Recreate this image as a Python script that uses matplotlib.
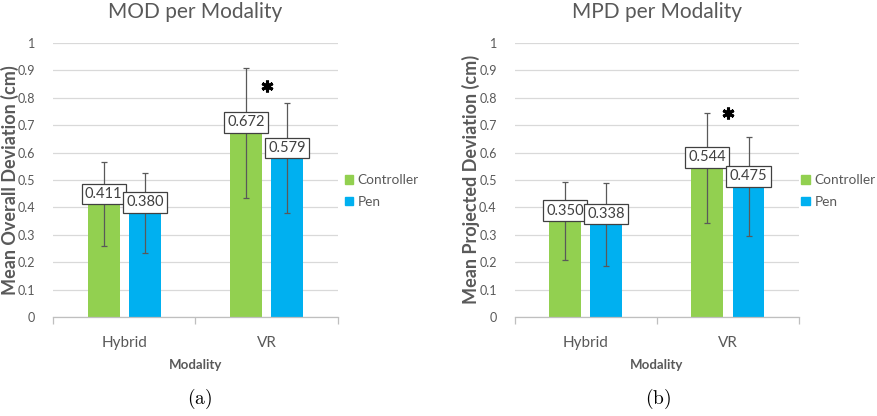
import matplotlib
matplotlib.use("Agg")
import matplotlib.pyplot as plt
import numpy as np
from matplotlib.patches import Patch

# Data
modalities = ["Hybrid", "VR"]
devices = ["Controller", "Pen"]

mod_mean = {"Controller": [0.411, 0.672], "Pen": [0.380, 0.579]}
mod_sd = {"Controller": [0.153, 0.238], "Pen": [0.147, 0.200]}

mpd_mean = {"Controller": [0.350, 0.544], "Pen": [0.338, 0.475]}
mpd_sd = {"Controller": [0.143, 0.200], "Pen": [0.152, 0.180]}

star_mod = 0.843
star_mpd = 0.745

colors = {"Controller": "#92D050", "Pen": "#00B0F0"}
plt.rcParams["font.family"] = ["Lato", "DejaVu Sans"]
grey = "#595959"


def panel(ax, means, sds, title, ylabel, star_y, ylab_x, leg_x):
    x = np.arange(len(modalities))
    w = 0.225
    offs = {"Controller": -0.145, "Pen": 0.145}
    for d in devices:
        xs = x + offs[d]
        ax.bar(xs, means[d], width=w, color=colors[d], zorder=2)
        ax.errorbar(xs, means[d], yerr=sds[d], fmt="none", ecolor="#595959",
                    elinewidth=0.9, capsize=2.5, capthick=0.9, zorder=4)
        for xi, m in zip(xs, means[d]):
            ax.annotate("%.3f" % m, (xi, m), xytext=(0, 2.5), textcoords="offset points",
                        ha="center", va="bottom", fontsize=10.5, color="#404040", zorder=5,
                        bbox=dict(boxstyle="square,pad=0.22", fc="white", ec="#404040", lw=0.9))
    # significance marker
    ax.plot(x[1], star_y, marker=(6, 2, 0), markersize=8.5, mew=2.2, color="black",
            zorder=6)
    ax.set_xlim(-0.5, 1.5)
    ax.set_ylim(0, 1)
    ax.set_yticks(np.arange(0, 1.01, 0.1))
    ax.set_yticklabels(["0"] + ["%.1f" % v for v in np.arange(0.1, 0.95, 0.1)] + ["1"])
    ax.set_xticks(x)
    ax.set_xticklabels(modalities)
    ax.set_xticks([-0.5, 0.5, 1.5], minor=True)
    ax.tick_params(axis="x", which="major", length=0, colors=grey, labelsize=11, pad=14)
    ax.tick_params(axis="x", which="minor", length=5, color="#BFBFBF", width=0.9)
    ax.tick_params(axis="y", length=0, colors=grey, labelsize=9, pad=13)
    ax.grid(axis="y", color="#D9D9D9", lw=0.9, zorder=0)
    ax.set_axisbelow(True)
    for s in ["top", "right", "left"]:
        ax.spines[s].set_visible(False)
    ax.spines["bottom"].set_color("#BFBFBF")
    ax.spines["bottom"].set_linewidth(0.9)
    ax.set_title(title, fontsize=15, color=grey, pad=18)
    ax.set_ylabel(ylabel, fontsize=13, fontweight="bold", color=grey)
    ax.yaxis.set_label_coords(ylab_x, 0.5)
    ax.set_xlabel("Modality", fontsize=9.5, fontweight="bold", color=grey, labelpad=6)
    handles = [Patch(color=colors[d], label=d) for d in devices]
    ax.legend(handles=handles, loc="center left", bbox_to_anchor=(leg_x, 0.46),
              frameon=False, handlelength=0.6, handleheight=0.6, handletextpad=0.35,
              labelspacing=0.7, fontsize=9.8, labelcolor=grey, borderpad=0.2)


fig = plt.figure(figsize=(8.77, 4.16), dpi=100)
ax1 = fig.add_axes([0.0604, 0.238, 0.325, 0.659])
ax2 = fig.add_axes([0.587, 0.238, 0.324, 0.659])
panel(ax1, mod_mean, mod_sd, "MOD per Modality", "Mean Overall Deviation (cm)",
      star_mod, -0.12, 0.99)
panel(ax2, mpd_mean, mpd_sd, "MPD per Modality", "Mean Projected Deviation (cm)",
      star_mpd, -0.123, 0.975)

fig.text(0.228, 0.04, r"$\mathrm{(a)}$", ha="center", va="center", fontsize=14,
         math_fontfamily="cm")
fig.text(0.750, 0.04, r"$\mathrm{(b)}$", ha="center", va="center", fontsize=14,
         math_fontfamily="cm")

fig.savefig("out.png", dpi=100)
